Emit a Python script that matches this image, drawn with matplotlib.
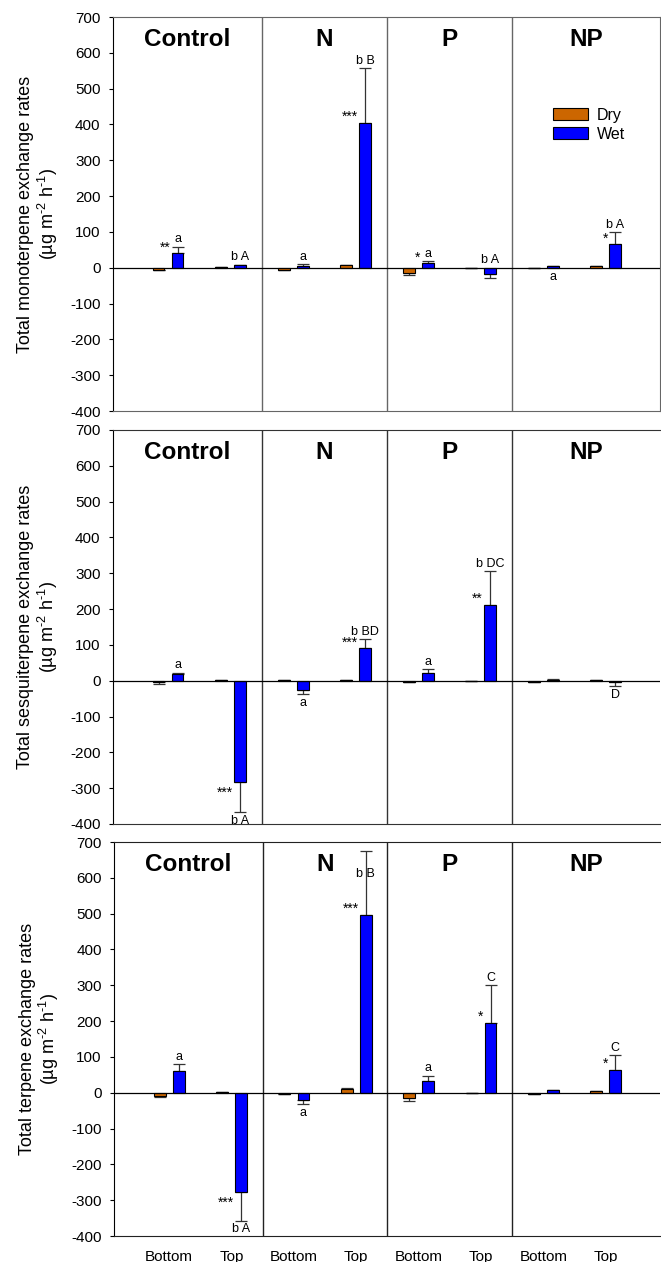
import numpy as np
import matplotlib.pyplot as plt
from matplotlib.patches import Patch

plt.rcParams['font.family'] = ['Liberation Sans', 'DejaVu Sans']
plt.rcParams['mathtext.fontset'] = 'custom'
plt.rcParams['mathtext.rm'] = 'Liberation Sans'
plt.rcParams['mathtext.it'] = 'Liberation Sans:italic'
plt.rcParams['axes.unicode_minus'] = False

treatments = ['Control', 'N', 'P', 'NP']
heights = ['Bottom', 'Top']
legend_labels = ['Dry', 'Wet']

# order: Control-Bottom, Control-Top, N-Bottom, N-Top, P-Bottom, P-Top, NP-Bottom, NP-Top
mono_dry = [-5, 1, -5, 7, -15, -1, -2, 4]
mono_dry_err = [2, 0, 1, 1, 5, 0, 0, 1]
mono_wet = [40, 7, 6, 405, 12, -17, 5, 65]
mono_wet_err = [19, 2, 4, 152, 6, 12, 1, 35]
mono_stars = ['**', '', '', '***', '*', '', '', '*']
mono_letters = ['a', 'b A', 'a', 'b B', 'a', 'b A', 'a', 'b A']

ses_dry = [-5, 1, 2, 3, -3, 0, -3, 2]
ses_dry_err = [5, 0, 0, 0, 0, 0, 0, 0]
ses_wet = [18, -282, -27, 90, 21, 212, 3, -3]
ses_wet_err = [4, 84, 10, 26, 11, 94, 1, 12]
ses_stars = ['', '***', '', '***', '', '**', '', '']
ses_letters = ['a', 'b A', 'a', 'b BD', 'a', 'b DC', '', 'D']

tot_dry = [-8, 2, -3, 10, -15, 0, -3, 4]
tot_dry_err = [5, 0, 0, 2, 7, 0, 0, 0]
tot_wet = [60, -276, -20, 497, 33, 195, 7, 64]
tot_wet_err = [20, 81, 12, 177, 15, 106, 1, 40]
tot_stars = ['', '***', '', '***', '', '*', '', '*']
tot_letters = ['a', 'b A', 'a', 'b B', 'a', 'C', '', 'C']

ylabels = ['Total monoterpene exchange rates',
           'Total sesquiterpene exchange rates',
           'Total terpene exchange rates']

panels = [
    (mono_dry, mono_dry_err, mono_wet, mono_wet_err, mono_stars, mono_letters),
    (ses_dry, ses_dry_err, ses_wet, ses_wet_err, ses_stars, ses_letters),
    (tot_dry, tot_dry_err, tot_wet, tot_wet_err, tot_stars, tot_letters),
]

# letters that sit on the other side of the zero line (panel, bar index)
letter_flip = {(0, 5), (0, 6)}

c_dry = '#CC6600'
c_wet = '#0000FF'
w = 0.19
off = 0.152

fig = plt.figure(figsize=(6.61, 12.62), dpi=100)
rects = [[0.171, 0.6743, 0.8275, 0.3122],
         [0.171, 0.3471, 0.8275, 0.3122],
         [0.173, 0.0206, 0.8255, 0.3122]]
frame_col = ['#666666', '#333333', '#222222']

x = np.arange(8)
for k, (dry, dry_e, wet, wet_e, stars, letters) in enumerate(panels):
    ax = fig.add_axes(rects[k])
    dry = np.array(dry, float)
    wet = np.array(wet, float)
    dry_e = np.array(dry_e, float)
    wet_e = np.array(wet_e, float)

    for xs, v, e, col in [(x - off, dry, dry_e, c_dry), (x + off, wet, wet_e, c_wet)]:
        ax.bar(xs, v, w, color=col, edgecolor='black', linewidth=0.8, zorder=3)
        lo = np.where(v < 0, e, 0)
        hi = np.where(v >= 0, e, 0)
        ax.errorbar(xs, v, yerr=[lo, hi], fmt='none', ecolor='#333333',
                    elinewidth=0.9, capsize=4.5, capthick=0.9, zorder=2)

    ax.axhline(0, color='black', lw=0.9, zorder=4)
    for d in [1.5, 3.5, 5.5]:
        ax.axvline(d, color=frame_col[k], lw=1.0)

    for i in range(8):
        v = wet[i]
        end = v + (wet_e[i] if v >= 0 else -wet_e[i])
        if stars[i]:
            if v >= 0:
                ax.annotate(stars[i], (x[i] + off - w / 2, v), xytext=(-1, -1),
                            textcoords='offset points', ha='right', va='bottom', fontsize=10)
            else:
                ax.annotate(stars[i], (x[i] + off - w / 2, v), xytext=(-1, -3),
                            textcoords='offset points', ha='right', va='top', fontsize=10)
        if letters[i]:
            up = v >= 0
            if (k, i) in letter_flip:
                up = not up
                end = 0
            if up:
                y = min(end, 655)
                dy = 1 if end < 655 else -16
                ax.annotate(letters[i], (x[i] + off, y), xytext=(0, dy),
                            textcoords='offset points', ha='center', va='bottom', fontsize=9)
            else:
                ax.annotate(letters[i], (x[i] + off, end), xytext=(0, -2),
                            textcoords='offset points', ha='center', va='top', fontsize=9)

    bounds = [-0.88, 1.5, 3.5, 5.5, 7.87]
    for j, t in enumerate(treatments):
        ax.text((bounds[j] + bounds[j + 1]) / 2, 638, t, ha='center', va='center',
                fontsize=17.5, fontweight='bold')

    ax.set_xlim(-0.88, 7.87)
    ax.set_ylim(-400, 700)
    ax.set_yticks(np.arange(-400, 701, 100))
    ax.tick_params(axis='y', direction='out', length=3, width=0.8, pad=6, labelsize=11)
    ax.spines['left'].set_color('black')
    for s in ['top', 'right', 'bottom']:
        ax.spines[s].set_color(frame_col[k])
    if k > 0:
        ax.spines['right'].set_visible(False)
    if k == 2:
        ax.set_xticks(x)
        ax.set_xticklabels(heights * 4, fontsize=11)
        ax.tick_params(axis='x', length=0, pad=10)
    else:
        ax.set_xticks([])

    ax.set_ylabel(ylabels[k] + '\n(µg m$^{\\text{-2}}$ h$^{\\text{-1}}$)',
                  fontsize=13, linespacing=1.1)
    ax.yaxis.set_label_coords(-0.097, 0.5)

    if k == 0:
        handles = [Patch(facecolor=c_dry, edgecolor='black', lw=0.8),
                   Patch(facecolor=c_wet, edgecolor='black', lw=0.8)]
        ax.legend(handles, legend_labels, loc='upper left', bbox_to_anchor=(0.789, 0.79),
                  frameon=False, fontsize=11.5, handlelength=2.2, handleheight=0.75,
                  labelspacing=0.25, handletextpad=0.55, borderpad=0)

fig.savefig('out.png', dpi=100)
